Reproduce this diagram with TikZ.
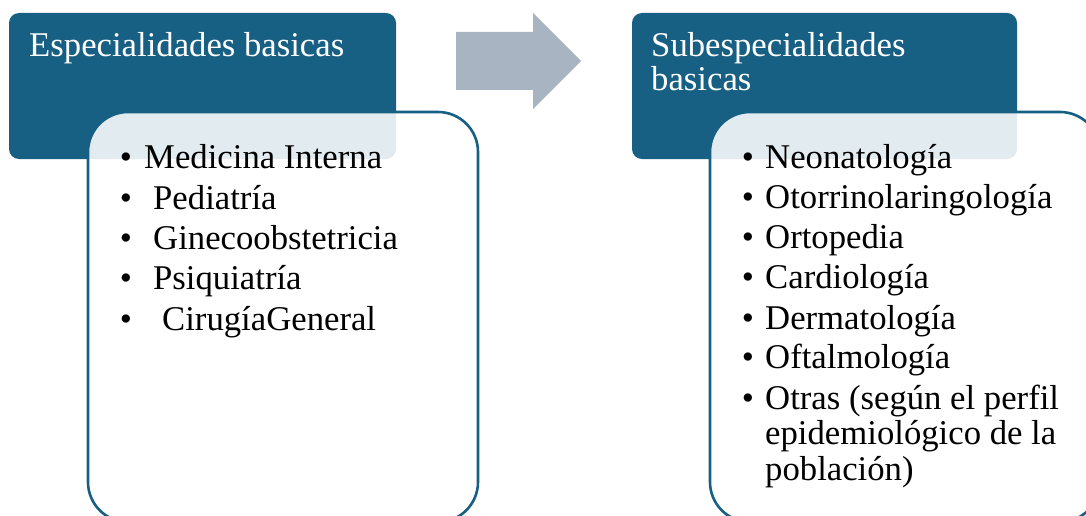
\documentclass[tikz,border=0pt]{standalone}
\usepackage{fontspec}
\setmainfont{Liberation Serif}
\definecolor{hdr}{RGB}{24,96,131}
\definecolor{arr}{RGB}{168,180,193}
\tikzset{
  header/.style={fill=hdr, draw=none, rounded corners=10pt},
  listbox/.style={fill=white, fill opacity=0.88, draw=hdr, line width=2.6pt, rounded corners=40pt, draw opacity=1},
  htext/.style={anchor=base west, inner sep=0pt, text=white, font=\fontsize{34.7}{36}\selectfont},
  ltext/.style={anchor=base west, inner sep=0pt, text=black, font=\fontsize{34.7}{36}\selectfont},
  bul/.style={anchor=base, inner sep=0pt, text=black, font=\fontsize{34.7}{36}\selectfont},
}
\begin{document}
\begin{tikzpicture}[x=1pt,y=-1pt]
\useasboundingbox (0,0) rectangle (1086,516);
\clip (0,0) rectangle (1086,516);
\fill[white] (0,0) rectangle (1086,516);
% left header and list box
\path[header] (9,13) rectangle (396,159);
\node[htext] (h1) at (29,57) {Especialidades basicas};
\path[listbox] (88,112) rectangle (478,522);
% arrow
\fill[arr] (456,32) -- (533,32) -- (533,13) -- (581,61) -- (533,109) -- (533,90) -- (456,90) -- cycle;
% right header and list box
\path[header] (632,13) rectangle (1017,159);
\node[htext] (h2a) at (651,57) {Subespecialidades};
\node[htext] (h2b) at (651,91) {basicas};
\path[listbox] (710,112) rectangle (1100,522);
% left list
\foreach \n/\y/\x/\t in {a/168/144/Medicina Interna, b/209/153/Pediatría, c/249/153/Ginecoobstetricia, d/289/153/Psiquiatría, e/330/162/CirugíaGeneral}{
  \node[bul] (lb\n) at (126,\y) {•};
  \node[ltext] (lt\n) at (\x,\y) {\t};
}
% right list
\foreach \n/\y/\t in {a/168/Neonatología, b/208/Otorrinolaringología, c/248/Ortopedia, d/288/Cardiología, e/329/Dermatología, f/368/Oftalmología, g/409/Otras (según el perfil}{
  \node[bul] (rb\n) at (748,\y) {•};
  \node[ltext] (rt\n) at (765,\y) {\t};
}
\node[ltext] (rth) at (765,444) {epidemiológico de la};
\node[ltext] (rti) at (765,480) {población)};
\end{tikzpicture}
\end{document}
